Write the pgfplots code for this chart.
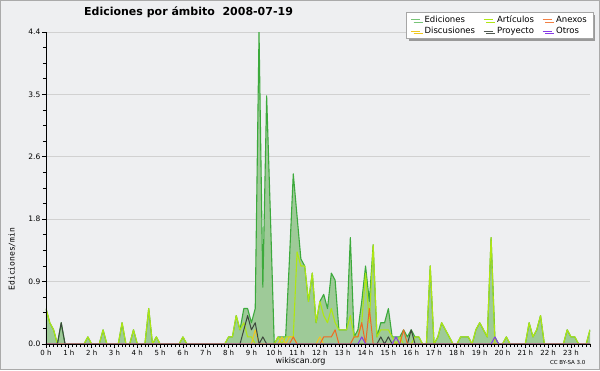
\documentclass[border=0pt]{standalone}
\usepackage{fontspec}
\setmainfont{DejaVu Sans}
\newfontfamily\monofont{DejaVu Sans Mono}
\usepackage{xcolor}
\usepackage{pgfplots}
\pgfplotsset{compat=1.18}
\usepackage{pgfplotstable}
\usetikzlibrary{shadows}
\definecolor{bgc}{RGB}{238,239,241}
\definecolor{framec}{RGB}{170,170,170}
\definecolor{fillc}{RGB}{158,202,152}
\definecolor{edc}{RGB}{60,170,60}
\definecolor{artc}{RGB}{175,230,20}
\definecolor{discc}{RGB}{240,200,30}
\definecolor{proc}{RGB}{60,70,60}
\definecolor{anexc}{RGB}{240,105,35}
\definecolor{otroc}{RGB}{135,60,230}
\pagecolor{bgc}
\pgfplotsset{
  layers/mylayers/.define layer set={axis background,axis grid,pre main,main,axis ticks,axis lines,axis tick labels,axis descriptions,axis foreground}{/pgfplots/layers/standard},
}
\pgfplotstableread{
i ed art
0 0.5 0.5
1 0.3 0.3
2 0.2 0.2
3 0 0
4 0.3 0
5 0 0
6 0 0
7 0 0
8 0 0
9 0 0
10 0 0
11 0.1 0.1
12 0 0
13 0 0
14 0 0
15 0.2 0.2
16 0 0
17 0 0
18 0 0
19 0 0
20 0.3 0.3
21 0 0
22 0 0
23 0.2 0.2
24 0 0
25 0 0
26 0 0
27 0.5 0.5
28 0 0
29 0.1 0.1
30 0 0
31 0 0
32 0 0
33 0 0
34 0 0
35 0 0
36 0.1 0.1
37 0 0
38 0 0
39 0 0
40 0 0
41 0 0
42 0 0
43 0 0
44 0 0
45 0 0
46 0 0
47 0 0
48 0.1 0.1
49 0.1 0.1
50 0.4 0.4
51 0.2 0.2
52 0.5 0.3
53 0.5 0.1
54 0.3 0.1
55 0.5 0
56 4.4 0
57 0.8 0
58 3.5 0
59 1.8 0
60 0 0
61 0.1 0.1
62 0.1 0
63 0.1 0.1
64 1.2 0.1
65 2.4 0.1
66 1.8 1.3
67 1.2 1.1
68 1.1 1.1
69 0.6 0.6
70 1.0 1.0
71 0.3 0.3
72 0.6 0.6
73 0.7 0.4
74 0.5 0.3
75 1.0 0.5
76 0.9 0.3
77 0.2 0.2
78 0.2 0.2
79 0.2 0.2
80 1.5 0.4
81 0.1 0.1
82 0.2 0.1
83 0.6 0.3
84 1.1 1.0
85 0.6 0.3
86 1.4 1.4
87 0.1 0.1
88 0.3 0.2
89 0.3 0.2
90 0.5 0.2
91 0.1 0.1
92 0.1 0
93 0.1 0.1
94 0.2 0
95 0.1 0
96 0.2 0
97 0.1 0.1
98 0.1 0.1
99 0 0
100 0 0
101 1.1 1.1
102 0 0
103 0.1 0.1
104 0.3 0.3
105 0.2 0.2
106 0.1 0.1
107 0 0
108 0 0
109 0.1 0.1
110 0.1 0.1
111 0.1 0.1
112 0 0
113 0.2 0.2
114 0.3 0.3
115 0.2 0.2
116 0.1 0.1
117 1.5 1.5
118 0.1 0
119 0 0
120 0 0
121 0.1 0.1
122 0 0
123 0 0
124 0 0
125 0 0
126 0 0
127 0.3 0.3
128 0.1 0.1
129 0.2 0.2
130 0.4 0.4
131 0 0
132 0 0
133 0 0
134 0 0
135 0 0
136 0 0
137 0.2 0.2
138 0.1 0.1
139 0.1 0.1
140 0 0
141 0 0
142 0 0
143 0.2 0.2
}\tblmain
\begin{document}
\begin{tikzpicture}
\begin{axis}[
  set layers=mylayers,
  scale only axis, width=544pt, height=312pt,
  xmin=0, xmax=143, ymin=0, ymax=4.4,
  axis x line*=bottom, axis y line*=left,
  axis line style={black, line width=0.9pt},
  xtick={0,6,...,138},
  xticklabels={0 h,1 h,2 h,3 h,4 h,5 h,6 h,7 h,8 h,9 h,10 h,11 h,12 h,13 h,14 h,15 h,16 h,17 h,18 h,19 h,20 h,21 h,22 h,23 h},
  minor xtick={0,1,...,143},
  ytick={0,0.88,1.76,2.64,3.52,4.4},
  yticklabels={0.0,0.9,1.8,2.6,3.5,4.4},
  minor y tick num=3,
  tick align=outside,
  major tick length=4pt, minor tick length=3pt,
  tick style={black, line width=0.8pt},
  x tick label style={font=\fontsize{7}{8}\selectfont, inner sep=1.5pt},
  y tick label style={font=\fontsize{7.5}{8}\selectfont, inner sep=1.5pt},
  ymajorgrids, grid style={black!18, line width=0.9pt},
  ylabel={Ediciones/min},
  ylabel style={font=\monofont\fontsize{8}{9}\selectfont, at={(axis description cs:-0.0625,0.272)}, anchor=center},
  title={\textbf{Ediciones por ámbito\hspace{0.7em}2008-07-19}},
  title style={font=\fontsize{11}{12}\selectfont, at={(axis description cs:0.262,1.043)}, anchor=center},
  legend columns=3,
  legend cell align=left,
  legend image code/.code={\draw[#1, line width=1pt] (0pt,0pt) -- (9pt,0pt);},
  legend style={at={(axis description cs:1.0055,1.064)}, anchor=north east,
    draw=black!35, fill=white, font=\fontsize{8.5}{8.5}\selectfont,
    inner xsep=4pt, inner ysep=1.5pt, row sep=-1pt,
    /tikz/every odd column/.append style={column sep=2pt},
    /tikz/every even column/.append style={column sep=6pt},
    drop shadow={shadow xshift=2.5pt, shadow yshift=-2.5pt, fill=black!40, opacity=1}},
]
\addlegendimage{edc!70}\addlegendentry{Ediciones}
\addlegendimage{artc}\addlegendentry{Artículos}
\addlegendimage{anexc!85}\addlegendentry{Anexos}
\addlegendimage{discc}\addlegendentry{Discusiones}
\addlegendimage{proc!90}\addlegendentry{Proyecto}
\addlegendimage{otroc}\addlegendentry{Otros}

\addplot[fill=fillc, draw=none, forget plot] table[x=i, y=ed] {\tblmain} \closedcycle;
\addplot[edc, line width=1.1pt, line join=round, forget plot] table[x=i, y=ed] {\tblmain};
\addplot[artc, line width=1.1pt, line join=round, forget plot] table[x=i, y=art] {\tblmain};
\addplot[discc, line width=1pt, line join=round, forget plot] coordinates {
(0,0)(54,0)(55,0.2)(56,0)(61,0)(62,0.1)(63,0)(64,0.1)(65,0.1)(66,0)(71,0)(72,0.1)(73,0)(143,0)};
\addplot[proc, line width=1pt, line join=round, forget plot] coordinates {
(0,0)(3,0)(4,0.3)(5,0)(51,0)(52,0.2)(53,0.4)(54,0.2)(55,0.3)(56,0)(57,0.1)(58,0)(87,0)(88,0.1)(89,0)(90,0.1)(91,0)(95,0)(96,0.2)(97,0)(143,0)};
\addplot[anexc, line width=1pt, line join=round, forget plot] coordinates {
(0,0)(64,0)(65,0.1)(66,0)(72,0)(73,0.1)(74,0.1)(75,0.1)(76,0.2)(77,0)(80,0)(81,0.1)(82,0.1)(83,0.3)(84,0)(85,0.5)(86,0)(93,0)(94,0.2)(95,0)(143,0)};
\addplot[otroc, line width=1pt, line join=round, forget plot] coordinates {
(0,0)(82,0)(83,0.1)(84,0)(91,0)(92,0.1)(93,0)(117,0)(118,0.1)(119,0)(143,0)};
\end{axis}
\node[font=\fontsize{8}{9}\selectfont] at (254.5pt,-17pt) {wikiscan.org};
\node[font=\fontsize{5.5}{6}\selectfont, anchor=east] at (543pt,-18pt) {CC BY-SA 3.0};
\draw[framec, line width=1.5pt] (-45.25pt,-25.25pt) rectangle (553.25pt,343.25pt);
\end{tikzpicture}
\end{document}
